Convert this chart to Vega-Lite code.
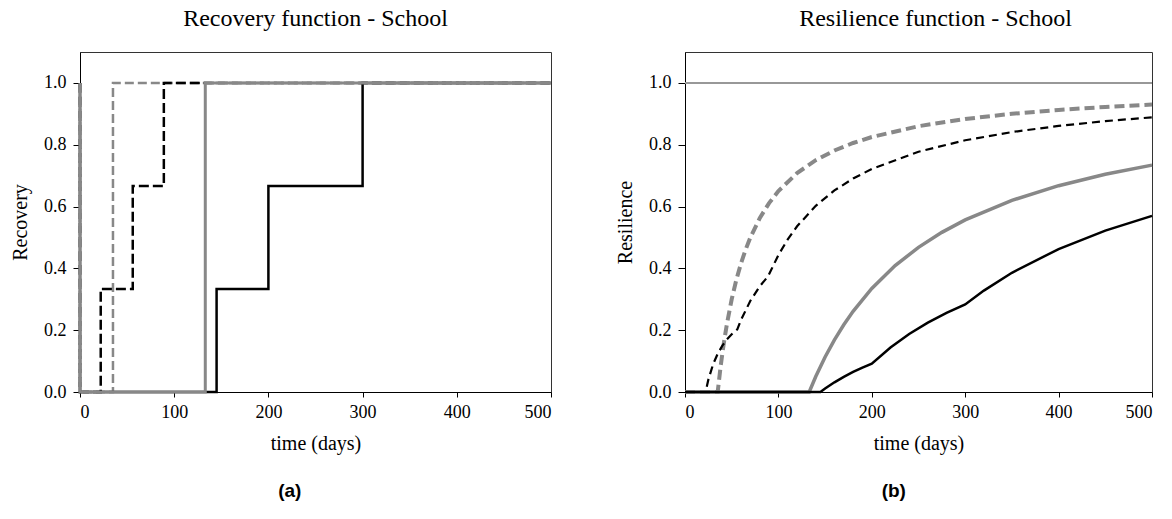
{
  "$schema": "https://vega.github.io/schema/vega-lite/v6.json",
  "padding": {"left": 10, "top": 6, "right": 0, "bottom": 0},
  "background": "white",
  "spacing": 57,
  "config": {
    "view": {"stroke": "#333333", "strokeWidth": 1},
    "axis": {"labelFont": "Liberation Serif", "titleFont": "Liberation Serif", "labelFontSize": 18, "titleFontSize": 20, "titleFontWeight": "normal", "labelColor": "#000", "titleColor": "#000", "domainColor": "#000", "tickColor": "#000", "grid": false},
    "title": {"font": "Liberation Serif", "fontSize": 24, "fontWeight": "normal", "color": "#000"},
    "line": {"strokeCap": "butt", "strokeJoin": "miter"}
  },
  "datasets": {
    "recovery": [
      {"s":"A","i":0,"t":0,"q":1},{"s":"A","i":1,"t":0,"q":0},{"s":"A","i":2,"t":145,"q":0},{"s":"A","i":3,"t":145,"q":0.3333},{"s":"A","i":4,"t":200,"q":0.3333},{"s":"A","i":5,"t":200,"q":0.6667},{"s":"A","i":6,"t":300,"q":0.6667},{"s":"A","i":7,"t":300,"q":1},{"s":"A","i":8,"t":500,"q":1},
      {"s":"B","i":0,"t":0,"q":1},{"s":"B","i":1,"t":0,"q":0},{"s":"B","i":2,"t":22,"q":0},{"s":"B","i":3,"t":22,"q":0.3333},{"s":"B","i":4,"t":56,"q":0.3333},{"s":"B","i":5,"t":56,"q":0.6667},{"s":"B","i":6,"t":89,"q":0.6667},{"s":"B","i":7,"t":89,"q":1},{"s":"B","i":8,"t":500,"q":1},
      {"s":"C","i":0,"t":0,"q":1},{"s":"C","i":1,"t":0,"q":0},{"s":"C","i":2,"t":133,"q":0},{"s":"C","i":3,"t":133,"q":1},{"s":"C","i":4,"t":500,"q":1},
      {"s":"D","i":0,"t":0,"q":1},{"s":"D","i":1,"t":0,"q":0},{"s":"D","i":2,"t":35,"q":0},{"s":"D","i":3,"t":35,"q":1},{"s":"D","i":4,"t":500,"q":1}
    ],
    "resilience": [
      {"s":"D","t":0,"r":0},{"s":"D","t":35,"r":0},{"s":"D","t":38,"r":0.0789},{"s":"D","t":40,"r":0.125},{"s":"D","t":42,"r":0.1667},{"s":"D","t":45,"r":0.2222},{"s":"D","t":50,"r":0.3},{"s":"D","t":55,"r":0.3636},{"s":"D","t":60,"r":0.4167},{"s":"D","t":65,"r":0.4615},{"s":"D","t":70,"r":0.5},{"s":"D","t":80,"r":0.5625},{"s":"D","t":90,"r":0.6111},{"s":"D","t":100,"r":0.65},{"s":"D","t":120,"r":0.7083},{"s":"D","t":140,"r":0.75},{"s":"D","t":160,"r":0.7813},{"s":"D","t":180,"r":0.8056},{"s":"D","t":200,"r":0.825},{"s":"D","t":250,"r":0.86},{"s":"D","t":300,"r":0.8833},{"s":"D","t":350,"r":0.9},{"s":"D","t":400,"r":0.9125},{"s":"D","t":450,"r":0.9222},{"s":"D","t":500,"r":0.93},
      {"s":"B","t":0,"r":0},{"s":"B","t":22,"r":0},{"s":"B","t":25,"r":0.04},{"s":"B","t":30,"r":0.0889},{"s":"B","t":35,"r":0.1238},{"s":"B","t":40,"r":0.15},{"s":"B","t":45,"r":0.1704},{"s":"B","t":50,"r":0.1867},{"s":"B","t":56,"r":0.2024},{"s":"B","t":60,"r":0.2333},{"s":"B","t":70,"r":0.2952},{"s":"B","t":80,"r":0.3417},{"s":"B","t":89,"r":0.3745},{"s":"B","t":100,"r":0.4433},{"s":"B","t":110,"r":0.4939},{"s":"B","t":120,"r":0.5361},{"s":"B","t":140,"r":0.6024},{"s":"B","t":160,"r":0.6521},{"s":"B","t":180,"r":0.6907},{"s":"B","t":200,"r":0.7217},{"s":"B","t":250,"r":0.7773},{"s":"B","t":300,"r":0.8144},{"s":"B","t":350,"r":0.841},{"s":"B","t":400,"r":0.8608},{"s":"B","t":450,"r":0.8763},{"s":"B","t":500,"r":0.8887},
      {"s":"C","t":0,"r":0},{"s":"C","t":133,"r":0},{"s":"C","t":140,"r":0.05},{"s":"C","t":150,"r":0.1133},{"s":"C","t":160,"r":0.1688},{"s":"C","t":170,"r":0.2176},{"s":"C","t":180,"r":0.2611},{"s":"C","t":200,"r":0.335},{"s":"C","t":225,"r":0.4089},{"s":"C","t":250,"r":0.468},{"s":"C","t":275,"r":0.5164},{"s":"C","t":300,"r":0.5567},{"s":"C","t":350,"r":0.62},{"s":"C","t":400,"r":0.6675},{"s":"C","t":450,"r":0.7044},{"s":"C","t":500,"r":0.734},
      {"s":"A","t":0,"r":0},{"s":"A","t":145,"r":0},{"s":"A","t":150,"r":0.0111},{"s":"A","t":160,"r":0.0313},{"s":"A","t":170,"r":0.049},{"s":"A","t":180,"r":0.0648},{"s":"A","t":190,"r":0.0789},{"s":"A","t":200,"r":0.0917},{"s":"A","t":220,"r":0.1439},{"s":"A","t":240,"r":0.1875},{"s":"A","t":260,"r":0.2244},{"s":"A","t":280,"r":0.256},{"s":"A","t":300,"r":0.2833},{"s":"A","t":320,"r":0.3281},{"s":"A","t":350,"r":0.3857},{"s":"A","t":400,"r":0.4625},{"s":"A","t":450,"r":0.5222},{"s":"A","t":500,"r":0.57}
    ]
  },
  "hconcat": [
    {
      "title": {"text": "(a)", "orient": "bottom", "font": "Liberation Sans", "fontWeight": "bold", "fontSize": 19, "offset": 28, "anchor": "middle", "dx": 6},
      "vconcat": [
        {
          "title": {"text": "Recovery function - School", "offset": 21, "anchor": "middle"},
          "width": 471,
          "height": 340,
          "data": {"name": "recovery"},
          "encoding": {
            "x": {"field": "t", "type": "quantitative", "scale": {"domain": [0, 500], "nice": false}, "axis": {"title": "time (days)", "values": [0, 100, 200, 300, 400, 500], "tickSize": 5, "labelPadding": 6, "titlePadding": 12, "labelFont": "Liberation Serif", "labelFontSize": 18, "titleFont": "Liberation Serif"}},
            "y": {"field": "q", "type": "quantitative", "scale": {"domain": [0, 1.1], "nice": false}, "axis": {"title": "Recovery", "values": [0, 0.2, 0.4, 0.6, 0.8, 1.0], "format": ".1f", "tickSize": 7, "labelPadding": 7, "titlePadding": 13, "labelFont": "Liberation Serif", "labelFontSize": 18, "titleFont": "Liberation Serif"}},
            "order": {"field": "i", "type": "quantitative"}
          },
          "layer": [
            {"transform": [{"filter": "datum.s == 'D'"}], "mark": {"type": "line", "color": "#888888", "strokeWidth": 2.5, "strokeDash": [9, 4]}},
            {"transform": [{"filter": "datum.s == 'B'"}], "mark": {"type": "line", "color": "#000000", "strokeWidth": 2.5, "strokeDash": [10, 4]}},
            {"transform": [{"filter": "datum.s == 'A'"}], "mark": {"type": "line", "color": "#000000", "strokeWidth": 2.5}},
            {"transform": [{"filter": "datum.s == 'C'"}], "mark": {"type": "line", "color": "#888888", "strokeWidth": 3}}
          ]
        }
      ]
    },
    {
      "title": {"text": "(b)", "orient": "bottom", "font": "Liberation Sans", "fontWeight": "bold", "fontSize": 19, "offset": 28, "anchor": "middle", "dx": 6},
      "vconcat": [
        {
          "title": {"text": "Resilience function - School", "offset": 21, "anchor": "middle", "dx": 17},
          "width": 467,
          "height": 340,
          "data": {"name": "resilience"},
          "encoding": {
            "x": {"field": "t", "type": "quantitative", "scale": {"domain": [0, 500], "nice": false}, "axis": {"title": "time (days)", "values": [0, 100, 200, 300, 400, 500], "tickSize": 5, "labelPadding": 6, "titlePadding": 12, "labelFont": "Liberation Serif", "labelFontSize": 18, "titleFont": "Liberation Serif"}},
            "y": {"field": "r", "type": "quantitative", "scale": {"domain": [0, 1.1], "nice": false}, "axis": {"title": "Resilience", "values": [0, 0.2, 0.4, 0.6, 0.8, 1.0], "format": ".1f", "tickSize": 7, "labelPadding": 7, "titlePadding": 13, "labelFont": "Liberation Serif", "labelFontSize": 18, "titleFont": "Liberation Serif"}}
          },
          "layer": [
            {"mark": {"type": "rule", "color": "#999999", "strokeWidth": 1}, "encoding": {"x": {"datum": 0}, "x2": {"datum": 500}, "y": {"datum": 1}}},
            {"transform": [{"filter": "datum.s == 'C'"}], "mark": {"type": "line", "color": "#888888", "strokeWidth": 3.5}},
            {"transform": [{"filter": "datum.s == 'D'"}], "mark": {"type": "line", "color": "#888888", "strokeWidth": 4, "strokeDash": [10, 5]}},
            {"transform": [{"filter": "datum.s == 'B'"}], "mark": {"type": "line", "color": "#000000", "strokeWidth": 2.2, "strokeDash": [8, 5]}},
            {"transform": [{"filter": "datum.s == 'A'"}], "mark": {"type": "line", "color": "#000000", "strokeWidth": 2.5}}
          ]
        }
      ]
    }
  ]
}
